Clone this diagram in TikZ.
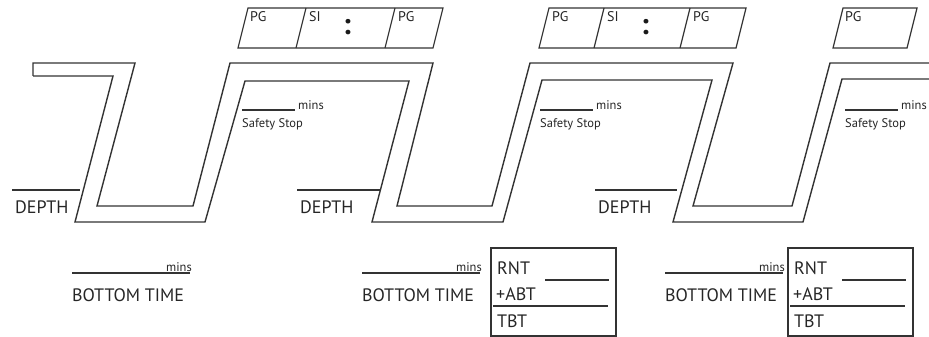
\documentclass[tikz,border=0pt]{standalone}
\usepackage{fontspec}
\setmainfont{PT Sans}
\usetikzlibrary{positioning}

\begin{document}
\begin{tikzpicture}[x=1pt, y=-1pt,
    band/.style={draw=black!80, line width=1.4pt, line join=miter},
    rule/.style={draw=black!80, line width=1.2pt},
    big/.style={font=\fontsize{18}{20}\selectfont, text=black!85, inner sep=0pt, anchor=base west},
    small/.style={font=\fontsize{12.5}{14}\selectfont, text=black!85, inner sep=0pt, anchor=base west},
    pg/.style={font=\fontsize{14}{16}\selectfont, text=black!85, inner sep=0pt, anchor=base west},
    dots/.style={font=\bfseries\fontsize{30}{30}\selectfont, text=black!90, inner sep=0pt}]
  \useasboundingbox (0,0) rectangle (929,337);

  % the dive profile: upper and lower edge of the band
  \draw[band] (33,76) -- (33,63) -- (135,63) -- (97,206) -- (193,206) -- (230,63)
    -- (433,63) -- (397,206) -- (492,206) -- (530,63) -- (733,63) -- (693,206)
    -- (792,206) -- (830,63) -- (929,63);
  \draw[band] (33,76) -- (113,76) -- (75,222) -- (205,222) -- (245,81) -- (409,81)
    -- (372,222) -- (503,222) -- (542,80) -- (712,80) -- (673,222) -- (803,222)
    -- (842,79) -- (929,79);

  % pressure group strips
  \draw[rule] (238,48) -- (248,8) -- (443,8) -- (433,48) -- cycle;
  \draw[rule] (296,48) -- (306,8); \draw[rule] (385,48) -- (395,8);
  \draw[rule] (539,48) -- (549,8) -- (746,8) -- (736,48) -- cycle;
  \draw[rule] (594,48) -- (604,8); \draw[rule] (680,48) -- (690,8);
  \draw[rule] (833,48) -- (843,8) -- (917,8) -- (907,48) -- cycle;
  \node[pg] (pg1) at (250,22) {PG};
  \node[pg] (si1) at (309,22) {SI};
  \node[dots] (col1) at (347,27.5) {:};
  \node[pg] (pg2) at (398,22) {PG};
  \node[pg] (pg3) at (552,22) {PG};
  \node[pg] (si2) at (607,22) {SI};
  \node[dots] (col2) at (645,27.5) {:};
  \node[pg] (pg4) at (693,22) {PG};
  \node[pg] (pg5) at (845,22) {PG};

  % safety stops
  \foreach \sx/\i in {242/1, 540/2, 845/3} {
    \draw[rule] (\sx,110) -- (\sx+53,110);
    \node[small] (mins\i) at (\sx+56,110) {mins};
    \node[small] (stop\i) at (\sx,127) {Safety Stop};
  }

  % depths
  \foreach \dx/\dl/\i in {12/80/1, 297/380/2, 595/677/3} {
    \draw[rule] (\dx,190) -- (\dl,190);
    \node[big] (depth\i) at (\dx+3,213) {DEPTH};
  }

  % bottom times
  \foreach \lx/\i in {72/1, 362/2, 665/3} {
    \draw[rule] (\lx,273) -- (\lx+118,273);
    \node[small, anchor=base east] (bmins\i) at (\lx+120,271) {mins};
    \node[big] (btime\i) at (\lx,301) {BOTTOM TIME};
  }

  % total bottom time boxes
  \foreach \bx/\i in {491/1, 788/2} {
    \draw[rule] (\bx,248) rectangle (\bx+125,336);
    \node[big] (rnt\i) at (\bx+6,274) {RNT};
    \node[big] (abt\i) at (\bx+5,300) {+ABT};
    \node[big] (tbt\i) at (\bx+6,327) {TBT};
    \draw[rule] (\bx+54,280) -- (\bx+118,280);
    \draw[rule] (\bx+2,306) -- (\bx+117,306);
  }
\end{tikzpicture}
\end{document}
